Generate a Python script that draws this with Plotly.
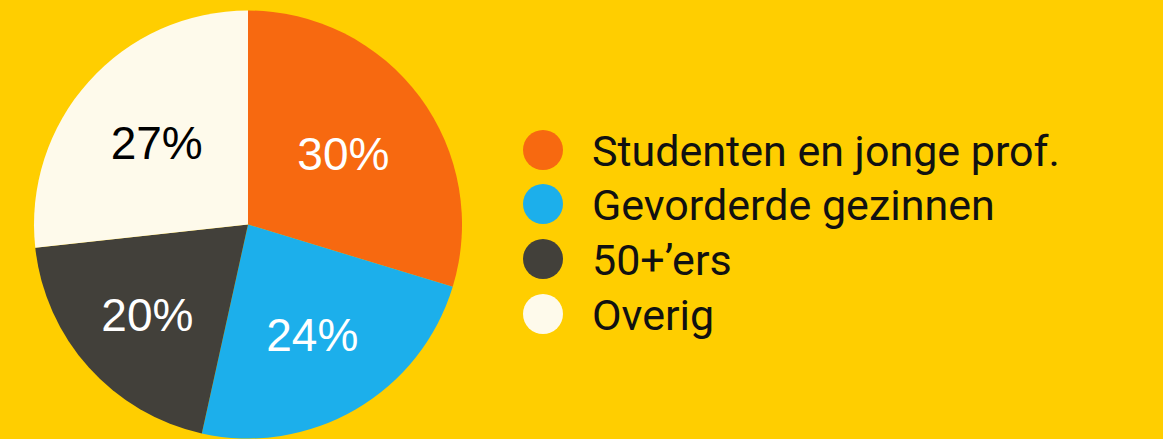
import plotly.graph_objects as go

categories = ["Studenten en jonge prof.", "Gevorderde gezinnen", "50+\u2019ers", "Overig"]
values = [30, 24, 20, 27]
colors = ["#F76910", "#1CAFEB", "#42403A", "#FEFAEB"]
text_colors = ["#FFFFFF", "#FFFFFF", "#FFFFFF", "#000000"]

W, H = 1163, 439
MT, MB = 10, 0
PH = H - MT - MB

def px_x(x):
    return x / W

def px_y(y):
    return 1 - (y - MT) / PH

fig = go.Figure()
fig.add_trace(go.Pie(
    labels=categories,
    values=values,
    sort=False,
    direction="clockwise",
    rotation=0,
    marker=dict(colors=colors, line=dict(width=0)),
    texttemplate="%{value}%",
    textposition="inside",
    insidetextorientation="horizontal",
    insidetextfont=dict(family="Liberation Sans, Arial, sans-serif", size=46, color=text_colors),
    domain=dict(x=[px_x(34), px_x(462)], y=[0, 1]),
    showlegend=False,
    hoverinfo="label+value",
))

row_y = [150, 204, 259, 314]
shapes = []
annotations = []
for cat, col, ry in zip(categories, colors, row_y):
    r = 20
    shapes.append(dict(type="circle", xref="paper", yref="paper",
                       x0=px_x(543 - r), x1=px_x(543 + r),
                       y0=px_y(ry + r), y1=px_y(ry - r),
                       fillcolor=col, line=dict(width=0)))
    annotations.append(dict(text=cat, xref="paper", yref="paper",
                            x=px_x(590), y=px_y(ry + 1), xanchor="left", yanchor="middle",
                            showarrow=False,
                            font=dict(family="Roboto, Liberation Sans, sans-serif",
                                      size=43, color="#111111")))

fig.update_layout(
    width=W, height=H,
    margin=dict(l=0, r=0, t=MT, b=MB),
    paper_bgcolor="#FFCE00",
    plot_bgcolor="#FFCE00",
    shapes=shapes,
    annotations=annotations,
)

fig.write_html("out.html",
               config={"displayModeBar": False},
               post_script="document.body.style.margin='0';document.body.style.overflow='hidden';")
